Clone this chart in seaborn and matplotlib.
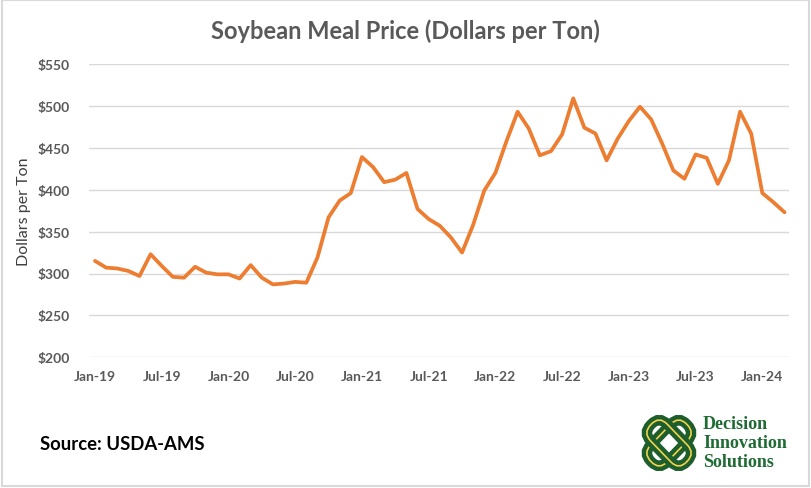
import numpy as np
import pandas as pd
import matplotlib
matplotlib.use("Agg")
import matplotlib.pyplot as plt
import seaborn as sns
from matplotlib.patches import Rectangle, FancyBboxPatch
from matplotlib.transforms import Affine2D

# ---- data (monthly, Jan-2019 .. Mar-2024) ----
prices = [315, 307, 306, 303, 297, 323, 309, 296, 295, 308, 301, 299,
          299, 294, 310, 295, 287, 288, 290, 289, 319, 367, 387, 396,
          439, 427, 409, 412, 420, 377, 365, 357, 343, 325, 358, 399,
          420, 458, 493, 473, 441, 446, 466, 509, 474, 467, 435, 461,
          482, 499, 484, 455, 423, 413, 442, 438, 407, 435, 493, 467,
          396, 385, 373]
tick_labels = ["Jan-19", "Jul-19", "Jan-20", "Jul-20", "Jan-21", "Jul-21",
               "Jan-22", "Jul-22", "Jan-23", "Jul-23", "Jan-24"]
y_ticks = [200, 250, 300, 350, 400, 450, 500, 550]

df = pd.DataFrame({"month": np.arange(len(prices)), "price": prices})

sns.set_theme(style="white")
plt.rcParams["font.family"] = ["Lato", "DejaVu Sans"]

fig = plt.figure(figsize=(8.12, 4.89), dpi=100)
ax = fig.add_axes([89/812, 1-358.3/489, 700/812, 293.3/489])

sns.lineplot(data=df, x="month", y="price", ax=ax, color="#ED7D31",
             linewidth=2.7, legend=False)

ax.set_xlim(-0.54, 62.4)
ax.set_ylim(200, 550)
ax.set_yticks(y_ticks)
ax.set_yticklabels([f"${v}" for v in y_ticks])
ax.set_xticks(np.arange(0, 61, 6))
ax.set_xticklabels(tick_labels)
ax.grid(axis="y", color="#d9d9d9", linewidth=1.0)
ax.set_axisbelow(True)
for s in ax.spines.values():
    s.set_visible(False)
ax.tick_params(axis="both", length=0, labelsize=10, labelcolor="#595959")
ax.tick_params(axis="y", pad=14)
ax.tick_params(axis="x", pad=9)
for lab in ax.get_xticklabels() + ax.get_yticklabels():
    lab.set_fontweight("bold")
ax.set_xlabel("")
ax.set_ylabel("Dollars per Ton", fontsize=11.5, color="#404040")
ax.yaxis.set_label_coords(-(89 - 31) / 700, 0.5)

fig.text(405/812, 1-31/489, "Soybean Meal Price (Dollars per Ton)",
         ha="center", va="center", fontsize=17, color="#595959", fontweight="bold")

fig.text(40/812, 1-445/489, "Source: USDA-AMS", ha="left", va="center",
         fontsize=13.3, color="black", fontweight="bold")

# ---- logo ----
lx0, ly0, lw, lh = 640/812, 1-474/489, 58/812, 60/489
lax = fig.add_axes([lx0, ly0, lw, lh])
lax.set_xlim(-1, 1)
lax.set_ylim(-1, 1)
lax.axis("off")
green = "#1d5e2c"
yellow = "#f2d34a"
for ang in (45, -45):
    for (w, h, col, lwid) in [(1.75, 0.8, green, 7.5), (1.75, 0.8, yellow, 1.2)]:
        p = FancyBboxPatch((-w/2, -h/2), w, h, boxstyle="round,pad=0,rounding_size=0.38",
                           facecolor="none", edgecolor=col, linewidth=lwid)
        p.set_transform(Affine2D().rotate_deg(ang) + lax.transData)
        lax.add_patch(p)

for i, t in enumerate(["Decision", "Innovation", "Solutions"]):
    fig.text(703/812, 1-(425 + i*19)/489, t, ha="left", va="center",
             fontsize=13, color="#1f6b33", fontweight="bold",
             family=["Liberation Serif", "DejaVu Serif"])

fig.add_artist(Rectangle((0.002, 0.004), 0.994, 0.993, transform=fig.transFigure,
                         fill=False, edgecolor="#d9d9d9", linewidth=1.5))

fig.savefig("out.png", dpi=100, facecolor="white")
